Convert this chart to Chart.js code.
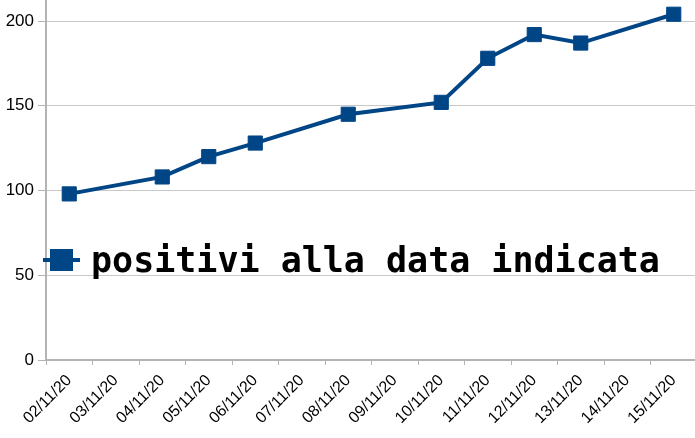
<!DOCTYPE html>
<html>
<head>
<meta charset="utf-8">
<script src="https://cdn.jsdelivr.net/npm/chart.js@4"></script>
<style>
    html, body { margin: 0; padding: 0; background: #fff; overflow: hidden; }
    #wrap { position: relative; width: 695px; height: 438px; overflow: hidden; }
    #legend { position: absolute; left: 43px; top: 243px; height: 35px; }
    #legend .line { position: absolute; left: 0; top: 15px; width: 37px; height: 4px; background: #004586; }
    #legend .box { position: absolute; left: 7px; top: 6px; width: 23px; height: 22px; background: #004586; }
    #legend .label { position: absolute; left: 48px; top: 0; white-space: nowrap;
        font: bold 35px/35px "DejaVu Sans Mono", monospace; color: #000; }
</style>
</head>
<body>
<div id="wrap">
    <!-- a little wider than the window: the plot runs off the right edge in the original -->
    <canvas id="chart" width="697" height="438"></canvas>
    <div id="legend">
        <span class="line"></span><span class="box"></span>
        <span class="label">positivi alla data indicata</span>
    </div>
</div>
<script>
const days = ['02/11/20', '03/11/20', '04/11/20', '05/11/20', '06/11/20', '07/11/20', '08/11/20',
    '09/11/20', '10/11/20', '11/11/20', '12/11/20', '13/11/20', '14/11/20', '15/11/20'];
// null where there is no value for that day
const positivi = [98, null, 108, 120, 128, null, 145, null, 152, 178, 192, 187, null, 204];
const seriesName = 'positivi alla data indicata';

// drop the extra room chart.js keeps for labels at the ends of the axes
function noPadding(scale) {
    scale.paddingTop = 0;
    scale.paddingBottom = 0;
    scale.paddingLeft = 0;
    scale.paddingRight = 0;
}

document.addEventListener("DOMContentLoaded", () => {
    const ctx = document.getElementById('chart').getContext('2d');
    new Chart(ctx, {
        type: 'line',
        data: {
            labels: days,
            datasets: [{
                label: seriesName,
                data: positivi,
                spanGaps: true,
                borderColor: '#004586',
                backgroundColor: '#004586',
                borderWidth: 4,
                tension: 0,
                pointStyle: 'rect',
                pointRadius: 10,
                pointBorderWidth: 1,
                pointBorderColor: '#004586',
                pointBackgroundColor: '#004586'
            }]
        },
        options: {
            responsive: false,
            animation: false,
            layout: {
                autoPadding: false,
                padding: 0
            },
            plugins: {
                legend: { display: false },
                tooltip: { enabled: false }
            },
            scales: {
                x: {
                    offset: true,
                    afterFit: (scale) => { scale.height = 78; noPadding(scale); },
                    grid: {
                        offset: true,
                        drawOnChartArea: false,
                        drawTicks: true,
                        tickLength: 5,
                        color: '#b3b3b3'
                    },
                    border: { color: '#b3b3b3', width: 2 },
                    ticks: {
                        autoSkip: false,
                        maxRotation: 45,
                        minRotation: 45,
                        padding: 6,
                        color: '#000',
                        font: { family: 'Liberation Sans', size: 16 }
                    }
                },
                y: {
                    min: 0,
                    max: 212.4,
                    afterFit: (scale) => { scale.width = 46; noPadding(scale); },
                    grid: {
                        color: '#c8c8c8',
                        lineWidth: 1,
                        tickLength: 8,
                        tickColor: '#b3b3b3'
                    },
                    border: { color: '#b3b3b3', width: 2 },
                    ticks: {
                        stepSize: 50,
                        includeBounds: false,
                        padding: 4,
                        color: '#000',
                        font: { family: 'Liberation Sans', size: 17 }
                    }
                }
            }
        }
    });
});
</script>
</body>
</html>
